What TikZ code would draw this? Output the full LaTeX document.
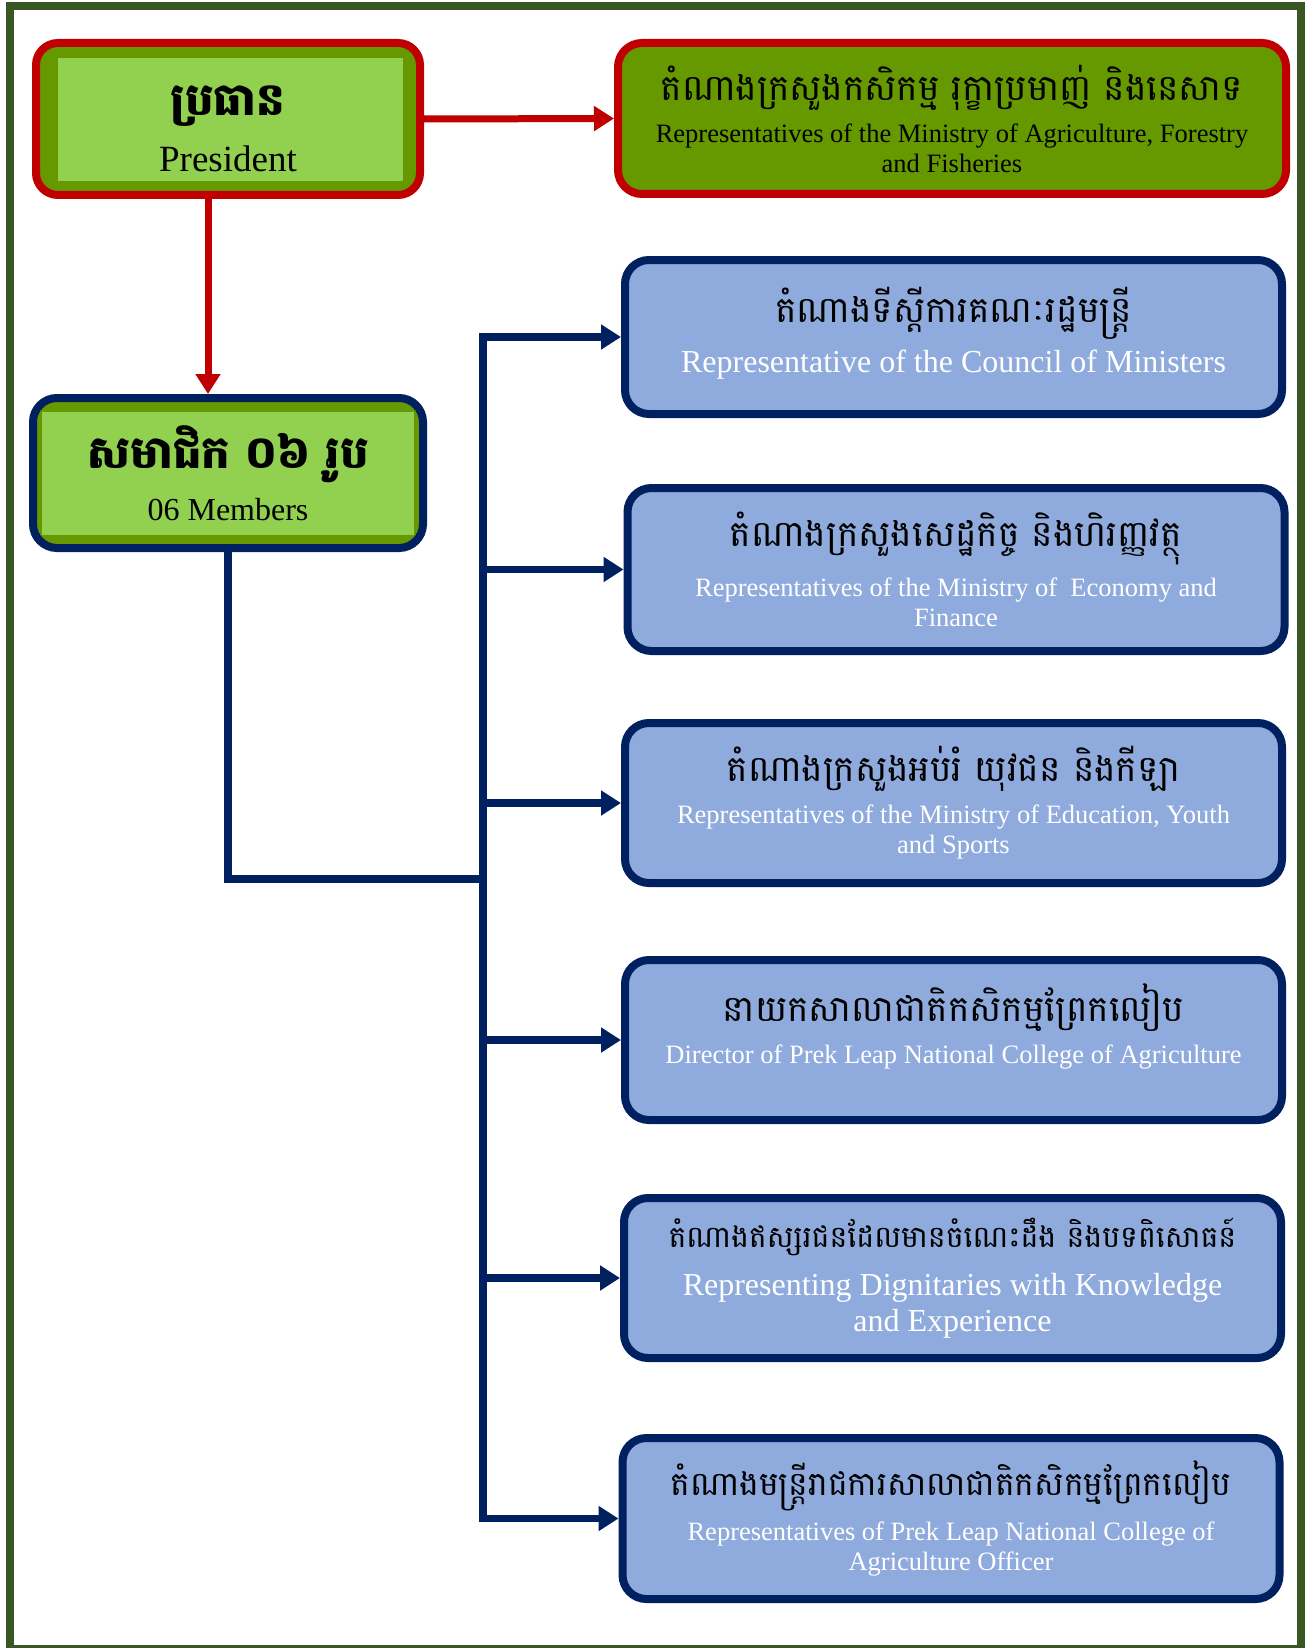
\documentclass[tikz,border=0pt]{standalone}
\usepackage{fontspec}
\setmainfont{Liberation Serif}
\newfontfamily\khmer[Script=Khmer]{Battambang}
\usetikzlibrary{arrows.meta}
\definecolor{cus-red}{RGB}{192,0,0}
\definecolor{cus-olive}{RGB}{102,153,0}
\definecolor{cus-lime}{RGB}{146,208,80}
\definecolor{cus-navy}{RGB}{0,32,96}
\definecolor{cus-blue}{RGB}{143,170,220}
\definecolor{cus-frame}{RGB}{56,87,35}
\newcommand{\khline}[2][36]{{\color{black}\khmer\fontsize{#1}{40}\selectfont #2}}
\newcommand{\khbold}[2][44]{{\khmer\bfseries\fontsize{#1}{48}\selectfont #2}}

\begin{document}
\begin{tikzpicture}[x=1pt , y=-1pt,
	box/.style={rectangle, line width=8pt, rounded corners=24pt, inner sep=0pt, align=center, font=\fontsize{26.5}{30}\selectfont},
	bluebox/.style={box, draw=cus-navy, fill=cus-blue, text=white, minimum width=657pt},
	greenbox/.style args={#1/#2/#3/#4}{box, fill=cus-olive, path picture={\fill[cus-lime, sharp corners] ([xshift=#1pt,yshift=-#2pt]path picture bounding box.north west) rectangle ([xshift=-#3pt,yshift=#4pt]path picture bounding box.south east);}},
	redarrow/.style={draw=cus-red, line width=7pt, -{Triangle[length=20pt,width=24pt]}},
	blueline/.style={draw=cus-navy, line width=7.5pt},
	bluearrow/.style={blueline, -{Triangle[length=20pt,width=24pt]}}]
\useasboundingbox (0 ,0) rectangle (1314 ,1648);
\draw [cus-frame, line width=8pt] (10 ,6.5) rectangle (1301 ,1648.5);

\node (pres) [greenbox=22/15/17/14, draw=cus-red, rounded corners=22pt, minimum width=384pt, minimum height=152pt, font=\fontsize{37}{40}\selectfont] at (228 ,119) {
	\rule{0pt}{50pt}\khbold[45]{ប្រធាន}\\[16pt]
	President};
\node (agri) [box, draw=cus-red, fill=cus-olive, minimum width=668pt, minimum height=151pt] at (952 ,118.5) {
	\khline{តំណាងក្រសួងកសិកម្ម រុក្ខាប្រមាញ់ និងនេសាទ}\\[12pt]
	Representatives of the Ministry of Agriculture, Forestry\\
	and Fisheries};
\node (memb) [greenbox=9/14/9/13, draw=cus-navy, minimum width=390pt, minimum height=150pt, font=\fontsize{32}{36}\selectfont] at (228 ,473) {
	\khbold[45]{សមាជិក ០៦ រូប}\\[14pt]
	06 Members};

\node (council) [bluebox, minimum height=154pt, font=\fontsize{32}{36}\selectfont] at (953.5 ,337) {
	\khline{តំណាងទីស្ដីការគណៈរដ្ឋមន្ត្រី}\\[10pt]
	Representative of the Council of Ministers\rule[-14pt]{0pt}{1pt}};
\node (economy) [bluebox, minimum height=163pt] at (956 ,569.5) {
	\khline{តំណាងក្រសួងសេដ្ឋកិច្ច និងហិរញ្ញវត្ថុ}\\[12pt]
	Representatives of the Ministry of\ \ Economy and\\
	Finance};
\node (education) [bluebox, minimum height=160pt] at (953.5 ,803) {
	\khline{តំណាងក្រសួងអប់រំ យុវជន និងកីឡា}\\[12pt]
	Representatives of the Ministry of Education, Youth\\
	and Sports};
\node (director) [bluebox, minimum height=160pt] at (953.5 ,1040) {
	\khline{នាយកសាលាជាតិកសិកម្មព្រែកលៀប}\\[12pt]
	Director of Prek Leap National College of Agriculture\rule[-32pt]{0pt}{1pt}};
\node (dignitary) [bluebox, minimum height=160pt, font=\fontsize{32}{36}\selectfont] at (952.5 ,1278) {
	\khline[30]{តំណាងឥស្សរជនដែលមានចំណេះដឹង និងបទពិសោធន៍}\\[12pt]
	Representing Dignitaries with Knowledge\\
	and Experience};
\node (officer) [bluebox, minimum height=161pt] at (951 ,1518.5) {
	\khline[33]{តំណាងមន្ត្រីរាជការសាលាជាតិកសិកម្មព្រែកលៀប}\\[10pt]
	Representatives of Prek Leap National College of\\
	Agriculture Officer};

\draw [redarrow] (pres.east) -- (agri.west);
\draw [redarrow] ([xshift=-20pt]pres.south) -- ([xshift=-20pt]memb.north);

\coordinate (trunk) at (483 ,0);
\coordinate (join) at (483 ,879);
\draw [blueline, line cap=rect] (trunk |- council.west) -- (trunk |- officer.west);
\draw [blueline] (memb.south) |- (join);
\foreach \b in {council,economy,education,director,dignitary,officer}{
	\draw [bluearrow] (trunk |- \b.west) -- (\b.west);
}
\end{tikzpicture}
\end{document}
